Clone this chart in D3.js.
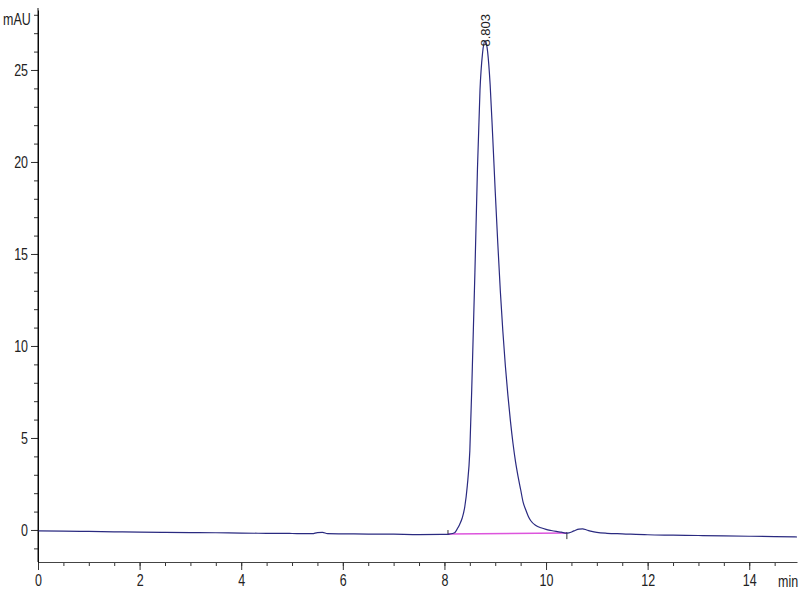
<!DOCTYPE html>
<html>
<head>
<meta charset="utf-8">
<script src="https://cdn.jsdelivr.net/npm/d3@7"></script>
<style>
  body { margin: 0; background: #fff; }
  svg { display: block; }
</style>
</head>
<body>
<script>
// signal (min, mAU)
const times = [0, 0.5, 1.0, 1.5, 2.0, 2.5, 3.0, 3.5, 4.0, 4.5, 5.0, 5.4, 5.5, 5.6, 5.7, 6.0, 6.5, 7.0, 7.5,
    8.0, 8.1, 8.2, 8.25, 8.3, 8.35, 8.4, 8.45, 8.5, 8.55, 8.6, 8.65, 8.7, 8.75, 8.8, 8.85, 8.9, 8.95,
    9.0, 9.05, 9.1, 9.15, 9.2, 9.25, 9.3, 9.35, 9.4, 9.45, 9.5, 9.55, 9.6, 9.65, 9.7, 9.8, 9.9, 10.0, 10.1,
    10.2, 10.3, 10.4, 10.45, 10.55, 10.65, 10.72, 10.8, 10.9, 11.0, 11.2, 11.5, 12.0, 12.5, 13.0, 13.5,
    14.0, 14.5, 14.94];
const absorbance = [-0.05, -0.06, -0.08, -0.10, -0.12, -0.13, -0.14, -0.15, -0.17, -0.18, -0.19, -0.20, -0.14, -0.13, -0.20, -0.21, -0.22, -0.23, -0.25,
    -0.24, -0.22, -0.15, 0.05, 0.3, 0.65, 1.25, 2.4, 4.3, 8.9, 14.0, 19.6, 23.9, 25.9, 26.6, 26.0, 24.2, 21.4,
    18.4, 15.6, 13.0, 10.8, 8.9, 7.3, 5.9, 4.7, 3.7, 2.9, 2.2, 1.5, 1.1, 0.75, 0.5, 0.25, 0.12, 0.03, -0.03,
    -0.08, -0.12, -0.17, -0.16, -0.05, 0.05, 0.06, 0.0, -0.08, -0.13, -0.18, -0.21, -0.26, -0.28, -0.30, -0.32,
    -0.34, -0.36, -0.38];

// integration baseline of the peak
const baseStart = [8.07, -0.22];
const baseEnd = [10.41, -0.17];
const peakTime = 8.803;
const peakLabel = "8.803";

const yTicks = [0, 5, 10, 15, 20, 25];
const xTicks = [0, 2, 4, 6, 8, 10, 12, 14];

const width = 800, height = 600;
const plotLeft = 38, plotRight = 797, plotTop = 10, plotBottom = 562;
const shrink = 0.78;

const x = d3.scaleLinear().domain([0, 14.94]).range([plotLeft, plotRight]);
const y = d3.scaleLinear().domain([-1.74, 28.26]).range([plotBottom, plotTop]);

const svg = d3.select("body").append("svg")
    .attr("width", width)
    .attr("height", height);

// minor ticks first
svg.append("g")
    .attr("transform", "translate(0," + plotBottom + ")")
    .call(d3.axisBottom(x).tickValues(d3.range(0, 14.94, 0.5)).tickSize(4).tickFormat(""))
    .call(g => g.select(".domain").remove());
svg.append("g")
    .attr("transform", "translate(" + plotLeft + ",0)")
    .call(d3.axisLeft(y).tickValues(d3.range(-1, 28.1, 1)).tickSize(4).tickFormat(""))
    .call(g => g.select(".domain").remove());

const xAxis = svg.append("g")
    .attr("transform", "translate(0," + plotBottom + ")")
    .call(d3.axisBottom(x).tickValues(xTicks).tickSize(8).tickSizeOuter(0));
xAxis.select(".domain").attr("stroke", "#444");
xAxis.selectAll("text")
    .attr("y", 13)
    .attr("dy", "0.71em")
    .attr("transform", "scale(" + shrink + ",1)");

const yAxis = svg.append("g")
    .attr("transform", "translate(" + plotLeft + ",0)")
    .call(d3.axisLeft(y).tickValues(yTicks).tickSize(7).tickSizeOuter(0));
yAxis.selectAll("text")
    .attr("x", -10 / shrink)
    .attr("transform", "scale(" + shrink + ",1)");

svg.selectAll(".tick line").attr("stroke", "#333");
svg.selectAll(".tick text")
    .attr("font-family", "Liberation Sans, Arial, sans-serif")
    .attr("font-size", 16)
    .attr("fill", "#222");

svg.append("text")
    .attr("transform", "translate(3,25) scale(" + shrink + ",1)")
    .attr("font-family", "Liberation Sans, Arial, sans-serif")
    .attr("font-size", 16)
    .attr("fill", "#222")
    .text("mAU");

svg.append("text")
    .attr("transform", "translate(778,587) scale(" + shrink + ",1)")
    .attr("font-family", "Liberation Sans, Arial, sans-serif")
    .attr("font-size", 16)
    .attr("fill", "#222")
    .text("min");

// peak baseline
svg.append("line")
    .attr("x1", x(baseStart[0])).attr("y1", y(baseStart[1]))
    .attr("x2", x(baseEnd[0])).attr("y2", y(baseEnd[1]))
    .attr("stroke", "#dd55dd")
    .attr("stroke-width", 1.5);
svg.append("line")
    .attr("x1", x(baseStart[0])).attr("y1", y(baseStart[1]) - 4)
    .attr("x2", x(baseStart[0])).attr("y2", y(baseStart[1]) + 1)
    .attr("stroke", "#333");
svg.append("line")
    .attr("x1", x(baseEnd[0])).attr("y1", y(baseEnd[1]) - 1)
    .attr("x2", x(baseEnd[0])).attr("y2", y(baseEnd[1]) + 6)
    .attr("stroke", "#333");

const lineFunction = d3.line()
    .x(function(d, i) { return x(times[i]); })
    .y(function(d) { return y(d); })
    .curve(d3.curveMonotoneX);

svg.append("path")
    .datum(absorbance)
    .attr("d", lineFunction)
    .attr("fill", "none")
    .attr("stroke", "#2a2a80")
    .attr("stroke-width", 1.2);

// peak label
const peakY = d3.max(absorbance);
svg.append("text")
    .attr("transform", "translate(" + (x(peakTime) + 5) + "," + (y(peakY) + 6) + ") rotate(-90)")
    .attr("font-family", "Liberation Sans, Arial, sans-serif")
    .attr("font-size", 13)
    .attr("fill", "#222")
    .text(peakLabel);

// y axis line drawn last so it sits on top
svg.append("line")
    .attr("x1", plotLeft).attr("y1", plotTop - 2)
    .attr("x2", plotLeft).attr("y2", plotBottom)
    .attr("stroke", "#111");
</script>
</body>
</html>
